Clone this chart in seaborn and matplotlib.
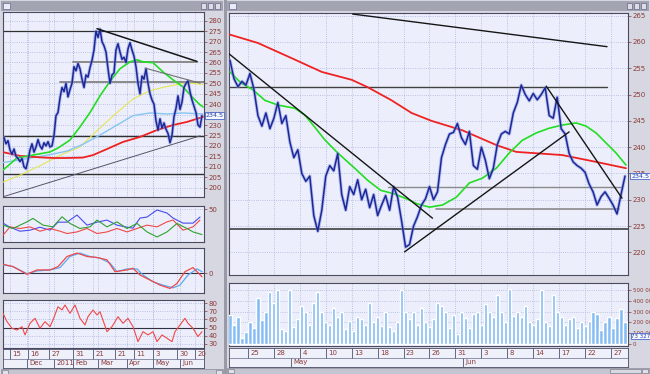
import numpy as np
import pandas as pd
import matplotlib
matplotlib.use("Agg")
import matplotlib.pyplot as plt
import matplotlib.transforms as mtrans
from matplotlib.patches import Rectangle
import seaborn as sns

# ======================= DATA =======================
# ---- right window (intraday bars, bar index) ----
right_close = [256.5, 253, 251.5, 252.5, 251.8, 254, 251, 246, 244, 246.5,
               243.5, 245.5, 248.5, 244.5, 246, 241, 238, 239.5, 235, 233.5,
               234.5, 227, 224, 228, 234.5, 236.5, 235.5, 238.8, 231, 228,
               232.5, 231, 233.8, 230, 232, 228.5, 231, 227, 229, 230.8,
               228, 232.5, 230.5, 226, 221, 221.5, 225, 226.8, 229, 230.2,
               232.5, 230, 231.5, 238, 240.5, 242.5, 242.8, 244.5, 241.8, 240.5,
               243, 236.5, 235.8, 240, 237.5, 234, 236, 240.5, 242.5, 243,
               242.5, 246.5, 248.5, 251.8, 250, 248.8, 250.2, 249, 250, 251.3,
               246, 245.5, 249.5, 243.5, 242.5, 238.8, 237.2, 236.5, 236, 235.2,
               233, 231.5, 229, 230.6, 231.5, 230.3, 229, 227.3, 231, 234.5]
right_volume_k = [270, 180, 250, 60, 110, 200, 150, 430, 220, 300,
                  480, 380, 500, 140, 120, 500, 160, 230, 350, 300,
                  180, 380, 480, 300, 200, 180, 330, 250, 300, 140,
                  210, 120, 250, 230, 180, 380, 200, 250, 170, 300,
                  160, 120, 200, 500, 300, 230, 300, 180, 330, 200,
                  160, 230, 380, 350, 300, 150, 270, 90, 300, 240,
                  150, 280, 300, 180, 370, 300, 250, 450, 300, 200,
                  510, 260, 300, 250, 350, 200, 180, 230, 500, 200,
                  170, 450, 300, 250, 180, 230, 250, 150, 200, 170,
                  210, 300, 280, 130, 200, 250, 150, 240, 320, 200]
right_green_x = [0, 5.5, 11.5, 17.5, 24, 32.5, 37.5, 42.5, 47.5, 54, 62.5, 69, 75.5,
                 82.5, 89, 94, 100, 106.5, 113.5, 120, 126.5, 133.5, 140, 146.5,
                 153.5, 160, 166.5, 173.5, 178.5, 183.5, 188.5, 193.5, 198.5]
right_green = [254.3, 252.2, 250.9, 248.9, 248.0, 247.4, 246.1, 243.8, 241.4, 238.9,
               236.0, 233.7, 231.8, 231.1, 230.1, 229.2, 228.6, 229.0, 230.5, 233.2,
               234.1, 236.0, 238.9, 241.3, 242.7, 243.6, 244.2, 244.6, 244.0, 242.7,
               240.8, 238.9, 236.6]
right_red_x = [-1, 14, 31, 46, 61, 69, 81, 91, 101, 116.5, 133.5, 143.5, 166.5, 183.5, 198.5]
right_red = [261.5, 259.8, 256.9, 254.3, 252.8, 251.4, 248.9, 246.5, 245.0, 243.2,
             240.4, 239.1, 238.5, 237.2, 236.0]
right_trends_x = [[61.5, 189], [-1, 101.5], [87.5, 170], [158.5, 196.5]]
right_trends_y = [[265.3, 259.1], [257.9, 226.5], [220.1, 242.9], [251.6, 230.3]]
right_levels = [251.4, 232.5, 228.2, 224.4]
right_levels_x = [[-0.5, 189], [79, 196.5], [103.5, 195], [-0.5, 199.5]]
right_price_ticks = [220, 225, 230, 235, 240, 245, 250, 255, 260, 265]
right_vol_ticks_k = [0, 100, 200, 300, 400, 500]
right_vol_labels = ['0', '100 000', '200 000', '300 000', '400 000', '500 000']
right_day_ticks = [9, 22, 35, 48, 61, 74, 87, 100, 113, 126, 139, 152, 165, 178, 191]
right_day_labels = ['25', '28', '4', '10', '13', '18', '23', '26', '31', '3', '8', '14', '17', '22', '27']
right_month_ticks = [30.5, 117]
right_month_labels = ['May', 'Jun']
last_price = 234.5
last_volume = 73327

# ---- left window (daily bars, bar index) ----
left_close = [224, 221, 222.5, 218, 216, 218.5, 215, 214, 212.5, 214,
              210, 209, 213, 218, 221, 217, 219.5, 223, 220, 218.5,
              221.5, 220, 222, 219.5, 220, 225, 234.5, 236, 243, 248,
              246, 250, 243.5, 247, 250, 258, 256, 259.5, 257, 252,
              248, 254, 253, 257.5, 261, 266, 275, 272, 276, 270,
              268, 265, 257, 250, 254, 255, 266, 269, 265, 261.5,
              262.5, 260, 266.5, 269.5, 266, 263, 258, 250, 245, 253.5,
              252, 257, 250, 245, 242, 240, 232, 227.5, 233, 228.5,
              231, 228, 226, 221.5, 225, 234, 238, 244, 237.5, 241,
              248, 250, 251.2, 246, 242, 239, 236, 230, 229, 234.5]
left_green_x = [-0.5, 6.5, 14.5, 23, 27, 33, 38, 43, 48, 53, 58, 63, 66.5, 69.5,
                74.5, 79.5, 84.5, 89.5, 94, 98, 99.5]
left_green = [208.4, 214.2, 215.6, 217.1, 219.0, 222.8, 229.1, 236.0, 244.0, 251.0,
              257.0, 260.3, 261.3, 260.3, 259.9, 255.5, 251.7, 248.3, 243.5, 239.7, 238.7]
left_red_x = [-0.5, 8, 18, 24.5, 31.5, 39.5, 44.5, 51.5, 59.5, 68, 76.5, 84.5, 91.5, 99.5]
left_red = [217.0, 215.2, 214.5, 214.2, 214.2, 214.4, 215.6, 218.5, 221.9, 224.3,
            227.6, 230.0, 231.5, 233.9]
left_blue_x = [-0.5, 11.5, 23, 31.5, 39.5, 48, 56.5, 64.5, 73, 81.5, 89.5, 99.5]
left_blue = [212.0, 213.9, 215.8, 217.5, 220.8, 225.2, 230.0, 234.5, 235.8, 235.3, 235.8, 235.3]
left_yellow_x = [-0.5, 8, 18, 28, 38, 48, 56.5, 64.5, 73, 81.5, 91.5, 99.5]
left_yellow = [202.6, 206.0, 210.5, 215.5, 219.5, 228.6, 236.0, 242.5, 246.5, 248.5, 250.2, 249.5]
left_trends_x = [[46.5, 96.5], [70.5, 98], [-0.5, 98]]
left_trends_y = [[276.2, 260.5], [257.3, 250.1], [195.6, 224.8]]
left_levels = [275.2, 260.2, 250.6, 224.8, 206.5]
left_levels_x = [[-0.5, 100], [34.5, 96.5], [28, 100], [-0.5, 100], [-0.5, 100]]
left_price_ticks = list(range(200, 281, 5))
left_day_ticks = [3, 12, 22.5, 34.5, 44.5, 55.5, 65, 74.5, 86.5, 95.5]
left_day_labels = ['15', '16', '27', '31', '21', '21', '11', '3', '30', '20']
left_month_ticks = [11.5, 25, 34.5, 47, 61.5, 74.5, 88]
left_month_labels = ['Dec', '2011', 'Feb', 'Mar', 'Apr', 'May', 'Jun']

# oscillator 1 (three directional lines)
osc1_blue_x = [-0.5, 3, 8, 13, 18, 23, 27, 31.5, 36.5, 41.5, 46.5, 51.5, 56.5, 61.5,
               64.5, 68, 71.5, 76.5, 81.5, 84.5, 89.5, 94.5, 98]
osc1_blue = [32.4, 27.3, 22.3, 23.6, 27.3, 23.6, 33.6, 33.6, 42.5, 29.9, 33.6, 36.2,
             29.9, 27.3, 26.1, 38.7, 40.0, 48.8, 45.0, 38.7, 32.4, 32.4, 40.0]
osc1_red_x = [-0.5, 3, 8, 13, 18, 23, 28, 31.5, 36.5, 41.5, 46.5, 51.5, 56.5, 61.5,
              66.5, 71.5, 76.5, 81.5, 84.5, 89.5, 94.5, 98]
osc1_red = [17.3, 27.7, 25.7, 27.7, 22.3, 25.7, 22.3, 19.4, 21.4, 25.7, 19.4, 21.4,
            25.7, 21.4, 25.7, 29.9, 27.7, 34.0, 36.2, 23.6, 27.7, 36.2]
osc1_green_x = [-0.5, 4.5, 11.5, 14.5, 19.5, 24.5, 29, 33, 38, 43, 46.5, 51.5, 56.5,
                61.5, 66.5, 71.5, 76.5, 81.5, 86.5, 91.5, 94.5, 99]
osc1_green = [29.9, 25.7, 34.0, 38.3, 29.9, 27.7, 40.3, 32.0, 25.7, 27.7, 36.2, 27.7,
              34.0, 25.7, 32.0, 21.4, 15.1, 21.4, 32.0, 25.7, 21.4, 18.1]
# oscillator 2 (MACD-like)
osc2_red_x = [-0.5, 4.5, 11.5, 16.5, 23, 27, 31.5, 36.5, 41.5, 46.5, 51.5, 55.5, 61.5,
              64.5, 68, 73, 78, 83, 86.5, 90.5, 94.5, 99]
osc2_red = [3.6, 2.64, -0.4, 1.32, 1.32, 2.64, 6.64, 8.0, 6.64, 6.24, 5.32, 0.64, 1.32,
            2.0, -0.68, -2.68, -4.68, -6.0, -4.0, 0.64, 2.24, -1.36]
osc2_blue_x = [-0.5, 4.5, 11.5, 16.5, 23, 28, 33, 38, 43, 48, 53, 56.5, 61.5, 66.5,
               69.5, 74.5, 79.5, 84.5, 88, 92, 96.5, 99]
osc2_blue = [3.32, 2.64, -0.16, 0.92, 1.32, 2.24, 6.64, 8.0, 6.64, 6.0, 4.0, 0.64, 1.72,
             1.72, -0.68, -3.36, -4.68, -5.76, -4.68, -0.68, 1.72, 0.64]
# oscillator 3 (RSI)
rsi_x = [-0.5, 1.5, 4, 6.5, 9, 10.5, 13, 15.5, 18, 20.5, 23, 24.5, 27, 29, 30.5, 33,
         35.5, 38, 40.5, 42, 44.5, 46.5, 48, 51.5, 54, 57, 59.5, 62, 64.5, 67, 69.5,
         72, 74.5, 76.5, 79, 81.5, 84, 85.5, 88, 90.5, 92, 94.5, 97, 99]
rsi = [67.4, 57.2, 49.1, 47.0, 51.1, 41.0, 55.2, 61.3, 49.1, 57.2, 51.1, 59.3, 75.5,
       71.5, 77.6, 67.4, 77.6, 61.3, 53.2, 63.3, 71.5, 65.4, 69.4, 45.0, 51.1, 63.3,
       55.2, 61.3, 51.1, 32.8, 45.0, 41.0, 45.0, 32.8, 41.0, 36.9, 32.8, 45.0, 53.2,
       61.3, 55.2, 49.1, 38.9, 45.0]
rsi_ticks = [30, 40, 50, 60, 70, 80]

# ======================= STYLE / LAYOUT =======================
sns.set_theme(style="white")
plt.rcParams['font.family'] = ['DejaVu Sans']

W, H = 650, 374
fig = plt.figure(figsize=(6.5, 3.74), dpi=100)
fig.patch.set_facecolor('#d2d3dc')

PANEL = '#eceffb'
GRID = '#a9b3dc'
TXT = '#8b3a3a'
EDGE = '#4a4a62'


def rect(x0, y0, x1, y1):
    return [x0 / W, 1 - y1 / H, (x1 - x0) / W, (y1 - y0) / H]


def figbox(x0, y0, x1, y1, fc, ec='none', lw=0.0, z=0):
    fig.add_artist(Rectangle((x0 / W, 1 - y1 / H), (x1 - x0) / W, (y1 - y0) / H,
                             transform=fig.transFigure, fc=fc, ec=ec, lw=lw, zorder=z))


def style(ax, xlim, ylim, yticks, ylabels, xgrid, size=5):
    ax.set_facecolor(PANEL)
    ax.set_xlim(*xlim)
    ax.set_ylim(*ylim)
    ax.yaxis.tick_right()
    ax.set_yticks(yticks)
    ax.set_yticklabels(ylabels)
    ax.tick_params(axis='y', length=2, width=0.5, pad=1.5, labelsize=size,
                   colors=TXT, direction='out')
    ax.set_xticks(xgrid)
    ax.set_xticklabels([])
    ax.tick_params(axis='x', length=0)
    ax.set_axisbelow(True)
    ax.grid(True, color=GRID, ls=':', lw=0.6)
    for s in ax.spines.values():
        s.set_color(EDGE)
        s.set_linewidth(0.8)
    ax.set_xlabel('')
    ax.set_ylabel('')


def line(ax, x, y, color, lw, z=3, alpha=1.0):
    sns.lineplot(x=x, y=y, ax=ax, color=color, lw=lw, sort=False, estimator=None,
                 zorder=z, alpha=alpha, legend=False)


def price(ax, x, y):
    line(ax, x, y, '#7d8ae0', 2.4, z=4, alpha=0.5)
    line(ax, x, y, '#1c2898', 1.1, z=5)


def valuebox(ax, val, text, size=5):
    tr = mtrans.blended_transform_factory(ax.transAxes, ax.transData)
    ax.text(1.008, val, text, transform=tr, fontsize=size, color='#2040b0', va='center',
            ha='left', zorder=10, clip_on=False,
            bbox=dict(boxstyle='square,pad=0.12', fc='#f5f8ff', ec='#4a66c8', lw=0.6))


# window chrome
figbox(0, 0, 224, 374, '#d6d7e0')
figbox(226, 0, 650, 374, '#d6d7e0')
figbox(224, 0, 226.5, 374, '#9a9aa6')
for (a, b) in [(1, 223), (227, 649)]:
    figbox(a, 1, b, 11, '#a3a4b2')
    figbox(a + 2, 3, a + 9, 9, '#e8ecf8', ec='#50507a', lw=0.4, z=1)
    for k in range(3):
        figbox(b - 22 + 7 * k, 3, b - 17 + 7 * k, 9, '#dcdce4', ec='#50507a', lw=0.4, z=1)

# ======================= LEFT WINDOW =======================
lx = np.arange(len(left_close))
LXL = (-0.5, 100)
lgrid = sorted(left_day_ticks + left_month_ticks)

axL = fig.add_axes(rect(3, 12, 204, 197))
line(axL, left_yellow_x, left_yellow, '#e6e650', 0.8)
line(axL, left_blue_x, left_blue, '#86c4f2', 1.0)
line(axL, left_red_x, left_red, '#ee2222', 1.3)
line(axL, left_green_x, left_green, '#22dd22', 1.2)
for xs, ys, c, w in zip(left_trends_x, left_trends_y,
                        ['#151515', '#707070', '#555566'], [1.1, 0.8, 0.7]):
    line(axL, xs, ys, c, w, z=6)
for lv, xs, c, w in zip(left_levels, left_levels_x,
                        ['#303030', '#8a8a8a', '#8a8a8a', '#303030', '#303030'],
                        [0.9, 1.4, 1.4, 1.0, 1.0]):
    line(axL, xs, [lv, lv], c, w, z=2)
price(axL, lx, left_close)
style(axL, LXL, (195.5, 284.2), left_price_ticks, [str(t) for t in left_price_ticks], lgrid)
valuebox(axL, last_price, f'{last_price}', size=4.6)

axO1 = fig.add_axes(rect(3, 206, 204, 242))
line(axO1, osc1_blue_x, osc1_blue, '#4a4af0', 0.8)
line(axO1, osc1_red_x, osc1_red, '#f04848', 0.8)
line(axO1, osc1_green_x, osc1_green, '#30a030', 0.8)
style(axO1, LXL, (8.8, 53.8), [50], ['50'], lgrid)

axO2 = fig.add_axes(rect(3, 248, 204, 293))
axO2.axhline(0, color='#303040', lw=0.8, zorder=2)
line(axO2, osc2_blue_x, osc2_blue, '#5aaaf0', 0.9)
line(axO2, osc2_red_x, osc2_red, '#f04848', 0.9)
style(axO2, LXL, (-7.8, 10.0), [0], ['0'], lgrid)

axO3 = fig.add_axes(rect(3, 300, 204, 348))
axO3.axhline(50, color='#303040', lw=0.8, zorder=2)
line(axO3, rsi_x, rsi, '#f04848', 0.8)
style(axO3, LXL, (25.0, 83.7), rsi_ticks, [str(t) for t in rsi_ticks], lgrid)

axLD = fig.add_axes(rect(3, 349, 204, 368))
axLD.set_facecolor('#eef0fa')
axLD.set_xlim(*LXL)
axLD.set_ylim(0, 2)
axLD.axhline(1, color='#8080a0', lw=0.6)
axLD.vlines(left_day_ticks, 1, 2, color='#505070', lw=0.6)
axLD.vlines(left_month_ticks, 0, 1, color='#505070', lw=0.6)
for t, s in zip(left_day_ticks, left_day_labels):
    axLD.text(t + 1.2, 1.5, s, fontsize=5, color=TXT, va='center', ha='left')
for t, s in zip(left_month_ticks, left_month_labels):
    axLD.text(t + 1.2, 0.5, s, fontsize=5, color=TXT, va='center', ha='left')
axLD.set_xticks([])
axLD.set_yticks([])
for s in axLD.spines.values():
    s.set_color(EDGE)
    s.set_linewidth(0.6)
figbox(1, 369, 223, 374, '#c4c5d0', ec='#7a7a8a', lw=0.4)
figbox(2, 369.5, 8, 373.5, '#e0e0e8', ec='#6a6a7a', lw=0.4, z=1)
figbox(216, 369.5, 222, 373.5, '#e0e0e8', ec='#6a6a7a', lw=0.4, z=1)

# ======================= RIGHT WINDOW =======================
rx = np.arange(len(right_close)) * 2
RXL = (-0.5, 199.5)
rgrid = right_day_ticks

axR = fig.add_axes(rect(229, 13, 628, 275))
line(axR, right_red_x, right_red, '#ee2222', 1.3)
line(axR, right_green_x, right_green, '#22dd22', 1.2)
for lv, xs, c, w in zip(right_levels, right_levels_x,
                        ['#404040', '#8a8a8a', '#8a8a8a', '#303030'], [1.0, 1.0, 1.2, 1.1]):
    line(axR, xs, [lv, lv], c, w, z=2)
for xs, ys in zip(right_trends_x, right_trends_y):
    line(axR, xs, ys, '#151515', 1.0, z=6)
price(axR, rx, right_close)
style(axR, RXL, (215.7, 265.5), right_price_ticks, [str(t) for t in right_price_ticks], rgrid)
valuebox(axR, last_price, f'{last_price}', size=4.6)

axV = fig.add_axes(rect(229, 283, 628, 346))
vol = pd.DataFrame({'bar': rx, 'volume': np.array(right_volume_k) * 1000})
sns.barplot(data=vol, x='bar', y='volume', ax=axV, native_scale=True, width=0.8,
            color='#86bcf4', saturation=1, errorbar=None, zorder=3)
style(axV, RXL, (-18000, 565000), [v * 1000 for v in right_vol_ticks_k], right_vol_labels,
      rgrid, size=4)
valuebox(axV, last_volume, f'{last_volume:,}'.replace(',', ' '), size=4)

axRD = fig.add_axes(rect(229, 348, 628, 367))
axRD.set_facecolor('#eef0fa')
axRD.set_xlim(*RXL)
axRD.set_ylim(0, 2)
axRD.axhline(1, color='#8080a0', lw=0.6)
axRD.vlines(right_day_ticks, 1, 2, color='#505070', lw=0.6)
axRD.vlines(right_month_ticks, 0, 1, color='#505070', lw=0.6)
for t, s in zip(right_day_ticks, right_day_labels):
    axRD.text(t + 1.2, 1.5, s, fontsize=5, color=TXT, va='center', ha='left')
for t, s in zip(right_month_ticks, right_month_labels):
    axRD.text(t + 1.2, 0.5, s, fontsize=5, color=TXT, va='center', ha='left')
axRD.set_xticks([])
axRD.set_yticks([])
for s in axRD.spines.values():
    s.set_color(EDGE)
    s.set_linewidth(0.6)
figbox(227, 368, 649, 373.5, '#c4c5d0', ec='#7a7a8a', lw=0.4)
figbox(228, 368.5, 234, 373, '#e0e0e8', ec='#6a6a7a', lw=0.4, z=1)
figbox(610, 368.5, 641, 373, '#d8d8e2', ec='#6a6a7a', lw=0.4, z=1)
figbox(642, 368.5, 648, 373, '#e0e0e8', ec='#6a6a7a', lw=0.4, z=1)

fig.savefig('out.png', dpi=100, facecolor=fig.get_facecolor())
